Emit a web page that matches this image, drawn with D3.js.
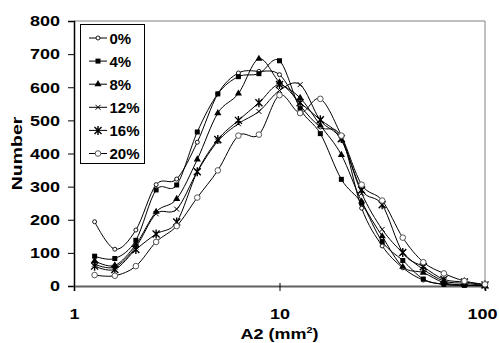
<!DOCTYPE html>
<html>
<head>
<meta charset="utf-8">
<script src="https://cdn.jsdelivr.net/npm/d3@7"></script>
<style>
  body { margin: 0; background: #fff; }
  svg { display: block; font-family: "Liberation Sans", Arial, sans-serif; font-weight: bold; }
</style>
</head>
<body>
<svg id="chart" width="499" height="343"></svg>
<script>
// Area classes (mm²), log-spaced bins
const areas = [1.26, 1.58, 2, 2.51, 3.16, 3.98, 5.01, 6.31, 7.94, 10,
               12.6, 15.8, 20, 25.1, 31.6, 39.8, 50.1, 63.1, 79.4, 100];

const seriesNames = ["0%", "4%", "8%", "12%", "16%", "20%"];

const s0  = [194, 111, 169, 306, 323, 434, 580, 643, 648, 638, 545, 480, 450, 235, 121, 55, 18, 5, 2, 1];
const s4  = [ 90,  83, 138, 290, 305, 465, 580, 632, 641, 680, 535, 460, 322, 250, 134, 77, 21, 5, 2, 1];
const s8  = [ 76,  62, 125, 224, 263, 382, 522, 581, 686, 615, 568, 485, 396, 255, 150, 58, 40, 10, 3, 1];
const s12 = [ 66,  57, 118, 218, 232, 345, 437, 490, 527, 590, 608, 500, 441, 280, 171, 100, 50, 15, 8, 2];
const s16 = [ 60,  50, 110, 157, 193, 345, 442, 500, 553, 608, 553, 502, 445, 290, 245, 101, 58, 20, 12, 3];
const s20 = [ 33,  31,  60, 133, 181, 267, 349, 454, 457, 576, 522, 565, 454, 306, 258, 146, 72, 38, 15, 5];

const seriesValues = [s0, s4, s8, s12, s16, s20];
const markerTypes = ["smallCircle", "square", "triangle", "cross", "star", "circle"];

const xTicks = [1, 10, 100];
const yTicks = [0, 100, 200, 300, 400, 500, 600, 700, 800];

const W = 499, H = 343;
const margin = { left: 74, top: 21, right: 14, bottom: 57 };
const svg = d3.select("#chart");
const FONT = "Liberation Sans, Arial, sans-serif";
const STRETCH = 1.2; // axis lettering is drawn a little wide

const x = d3.scaleLog().domain([1, 100]).range([margin.left, W - margin.right]);
const y = d3.scaleLinear().domain([0, 800]).range([H - margin.bottom, margin.top]);

// plot-area frame (top and right edges)
svg.append("path")
  .attr("d", `M${x(1)},${y(800)}H${x(100)}V${y(0)}`)
  .attr("fill", "none").attr("stroke", "#808080").attr("stroke-width", 1);

// y axis
const yAxis = svg.append("g")
  .attr("transform", `translate(${x(1)},0)`)
  .call(d3.axisLeft(y).tickValues(yTicks).tickSize(6).tickPadding(8));
yAxis.select(".domain").attr("stroke", "#000").attr("stroke-width", 1.5);
yAxis.selectAll(".tick line").attr("stroke", "#000");
yAxis.selectAll("text")
  .attr("font-size", 15).attr("font-weight", "bold").attr("fill", "#000").attr("font-family", FONT)
  .attr("x", 0)
  .attr("transform", `translate(-14,0) scale(${STRETCH},1)`);

// x axis; the last label is nudged left so it stays inside the frame
const xAxis = svg.append("g")
  .attr("transform", `translate(0,${y(0)})`)
  .call(d3.axisBottom(x).tickValues(xTicks).tickFormat(d3.format("d")).tickSize(5).tickPadding(17));
xAxis.select(".domain").attr("stroke", "#606060").attr("stroke-width", 2);
xAxis.selectAll(".tick line").attr("stroke", "#000").attr("y1", -3);
xAxis.selectAll("text")
  .attr("font-size", 15).attr("font-weight", "bold").attr("fill", "#000").attr("font-family", FONT)
  .attr("y", 0)
  .attr("transform", d => `translate(${d === 100 ? -3 : 0},22) scale(${STRETCH},1)`);

// axis titles
const xTitle = svg.append("text")
  .attr("transform", `translate(${x(10)},339) scale(${STRETCH},1)`)
  .attr("text-anchor", "middle").attr("font-size", 15);
xTitle.append("tspan").text("A2 (mm");
xTitle.append("tspan").attr("font-size", 9).attr("dy", -6).text("2");
xTitle.append("tspan").attr("dy", 6).text(")");

svg.append("text")
  .attr("transform", `translate(22,${(y(0) + y(800)) / 2}) rotate(-90) scale(1.3,1)`)
  .attr("text-anchor", "middle").attr("font-size", 15)
  .text("Number");

// marker drawing
function drawMarker(g, type) {
  switch (type) {
    case "smallCircle":
      g.append("circle").attr("r", 2).attr("fill", "#fff").attr("stroke", "#000").attr("stroke-width", 0.9);
      break;
    case "square":
      g.append("rect").attr("x", -2.5).attr("y", -2.5).attr("width", 5).attr("height", 5).attr("fill", "#000");
      break;
    case "triangle":
      g.append("path").attr("d", d3.symbol(d3.symbolTriangle, 22)()).attr("fill", "#000");
      break;
    case "cross":
      g.append("path").attr("d", "M-2.5,-2.5L2.5,2.5M-2.5,2.5L2.5,-2.5")
        .attr("stroke", "#000").attr("stroke-width", 1);
      break;
    case "star":
      g.append("path").attr("d", "M-3.5,-3.5L3.5,3.5M-3.5,3.5L3.5,-3.5M0,-4.5V4.5")
        .attr("stroke", "#000").attr("stroke-width", 1.4);
      break;
    case "circle":
      g.append("circle").attr("r", 2.8).attr("fill", "#fff").attr("stroke", "#555").attr("stroke-width", 1);
      break;
  }
}

const line = d3.line()
  .x((d, i) => x(areas[i]))
  .y(d => y(d))
  .curve(d3.curveCardinal.tension(0));

const plot = svg.append("g");
seriesValues.forEach(vals => {
  plot.append("path")
    .datum(vals)
    .attr("d", line)
    .attr("fill", "none")
    .attr("stroke", "#000")
    .attr("stroke-width", 1);
});
seriesValues.forEach((vals, si) => {
  plot.selectAll(null)
    .data(vals)
    .enter().append("g")
    .attr("transform", (d, i) => `translate(${x(areas[i])},${y(d)})`)
    .each(function () { drawMarker(d3.select(this), markerTypes[si]); });
});

// legend
const legend = svg.append("g");
legend.append("rect")
  .attr("x", 80.5).attr("y", 24.5).attr("width", 64).attr("height", 139)
  .attr("fill", "#fff").attr("stroke", "#000").attr("stroke-width", 1);
seriesNames.forEach((name, i) => {
  const cy = 38 + i * 23.1;
  const row = legend.append("g").attr("transform", `translate(0,${cy})`);
  row.append("line").attr("x1", 89).attr("x2", 107).attr("y1", 0).attr("y2", 0)
    .attr("stroke", "#000").attr("stroke-width", 1);
  const m = row.append("g").attr("transform", "translate(98,0)");
  drawMarker(m, markerTypes[i]);
  row.append("text").attr("x", 109.5).attr("y", 5.5).attr("font-size", 15).text(name);
});
</script>
</body>
</html>
